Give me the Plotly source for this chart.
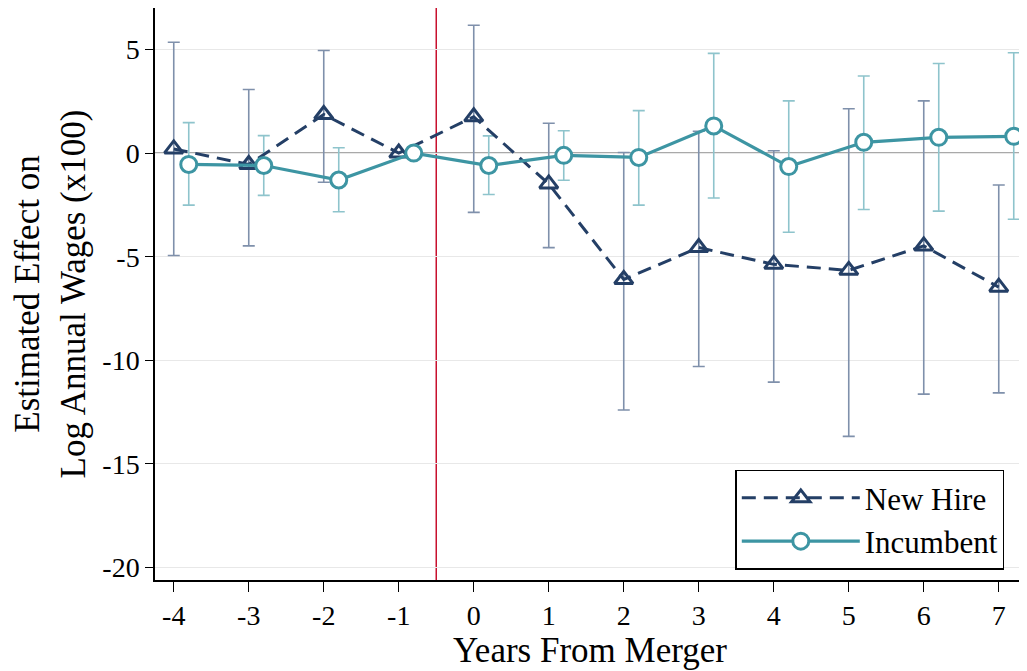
import plotly.graph_objects as go

years = [-4, -3, -2, -1, 0, 1, 2, 3, 4, 5, 6, 7]
x_ticks = [-4, -3, -2, -1, 0, 1, 2, 3, 4, 5, 6, 7]
x_ticklabels = ["-4", "-3", "-2", "-1", "0", "1", "2", "3", "4", "5", "6", "7"]
y_ticks = [5, 0, -5, -10, -15, -20]
y_ticklabels = ["5", "0", "-5", "-10", "-15", "-20"]

new_hire = [0.2, -0.55, 1.86, 0.0, 1.75, -1.49, -6.1, -4.56, -5.37, -5.66, -4.48, -6.47]
new_hire_hi = [5.35, 3.07, 4.95, None, 6.17, 1.44, 0.03, 1.05, 0.11, 2.14, 2.52, -1.54]
new_hire_lo = [-4.94, -4.48, -1.41, None, -2.86, -4.56, -12.4, -10.3, -11.05, -13.67, -11.63, -11.57]

incumbent = [-0.55, -0.6, -1.3, 0.0, -0.6, -0.11, -0.21, 1.31, -0.65, 0.52, 0.76, 0.81]
incumbent_hi = [1.47, 0.84, 0.26, None, 0.83, 1.08, 2.05, 4.81, 2.52, 3.72, 4.32, 4.84]
incumbent_lo = [-2.51, -2.04, -2.83, None, -2.0, -1.31, -2.51, -2.17, -3.82, -2.72, -2.8, -3.19]

offset = 0.2
x_inc = [x + offset for x in years]

NAVY = "#243f66"
NAVY_ERR = "#7f90ab"
TEAL = "#3d95a3"
TEAL_ERR = "#8ec4cc"
FONT = "Liberation Serif"

def err_trace(xs, ys, hi, lo, color):
    yy, ep, em = [], [], []
    for y, h, l in zip(ys, hi, lo):
        if h is None:
            yy.append(None); ep.append(0); em.append(0)
        else:
            yy.append(y); ep.append(h - y); em.append(y - l)
    return go.Scatter(
        x=xs, y=yy, mode="markers",
        marker=dict(size=1, color="rgba(0,0,0,0)"),
        error_y=dict(type="data", symmetric=False, array=ep, arrayminus=em,
                     color=color, thickness=1.6, width=6),
        showlegend=False, hoverinfo="skip")

fig = go.Figure()
fig.add_trace(err_trace(years, new_hire, new_hire_hi, new_hire_lo, NAVY_ERR))
fig.add_trace(err_trace(x_inc, incumbent, incumbent_hi, incumbent_lo, TEAL_ERR))

fig.add_trace(go.Scatter(
    x=years, y=new_hire, mode="lines+markers", name="New Hire",
    line=dict(color=NAVY, width=3, dash="14px,8px"),
    marker=dict(symbol="triangle-up-open", size=16, color=NAVY, line=dict(width=3, color=NAVY))))
fig.add_trace(go.Scatter(
    x=x_inc, y=incumbent, mode="lines+markers", name="Incumbent",
    line=dict(color=TEAL, width=3.2),
    marker=dict(symbol="circle", size=16, color="white", line=dict(width=3, color=TEAL))))

fig.add_shape(type="line", xref="x", yref="paper", x0=-0.5, x1=-0.5, y0=0, y1=1,
              line=dict(color="#c8102e", width=1.5), layer="below")
fig.add_shape(type="line", xref="paper", yref="y", x0=0, x1=1, y0=0, y1=0,
              line=dict(color="#8c8c8c", width=1.5), layer="below")

fig.update_layout(
    width=1019, height=663,
    margin=dict(l=147, r=2, t=0, b=91),
    paper_bgcolor="white", plot_bgcolor="white",
    font=dict(family=FONT, size=28, color="black"),
    legend=dict(x=0.667, y=0.018, xanchor="left", yanchor="bottom",
                bgcolor="white", bordercolor="black", borderwidth=1.5,
                font=dict(size=31, family=FONT), itemwidth=118, tracegroupgap=0),
    xaxis=dict(range=[-4.25, 7.35], tickvals=x_ticks, ticktext=x_ticklabels,
               showgrid=False, zeroline=False, showline=True, linecolor="black",
               linewidth=1.5, ticks="outside", ticklen=10, tickcolor="black",
               title=dict(text="Years From Merger", font=dict(size=35), standoff=0)),
    yaxis=dict(range=[-20.6, 7], tickvals=y_ticks, ticktext=y_ticklabels,
               showgrid=True, gridcolor="#e8e8e8", gridwidth=1.2, zeroline=False,
               showline=True, linecolor="black", linewidth=1.5, ticks="outside",
               ticklen=8, tickcolor="black",
               title=dict(text="Estimated Effect on<br>Log Annual Wages (x100)",
                          font=dict(size=35), standoff=10)),
)

fig.write_html("out.html")
